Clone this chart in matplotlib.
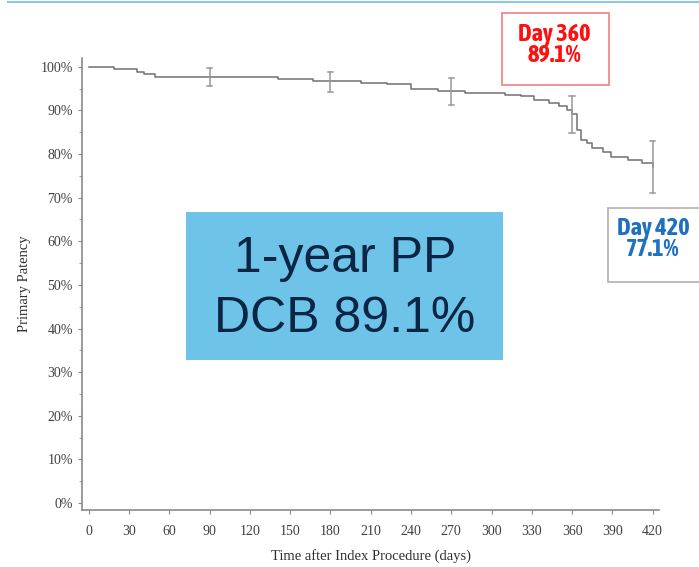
import matplotlib
matplotlib.use("Agg")
import matplotlib.pyplot as plt
from matplotlib.patches import Rectangle
from matplotlib.lines import Line2D
from matplotlib import font_manager

# Kaplan-Meier step curve (days, primary patency fraction)
days = [0, 19, 36, 41, 49, 141, 167, 203, 222, 240, 260, 280, 310, 322, 332, 343, 350,
        356, 360, 364, 367, 371, 375, 383, 389, 402, 412, 420]
patency = [1.000, 0.994, 0.988, 0.984, 0.977, 0.972, 0.967, 0.963, 0.960, 0.950, 0.944,
           0.940, 0.936, 0.932, 0.924, 0.918, 0.911, 0.901, 0.891, 0.856, 0.833, 0.826,
           0.814, 0.805, 0.794, 0.787, 0.780, 0.771]

# Confidence intervals at time points
ci_days = [90, 180, 270, 360, 420]
ci_lower = [0.956, 0.943, 0.913, 0.849, 0.711]
ci_upper = [0.998, 0.989, 0.975, 0.933, 0.830]

x_ticks = list(range(0, 421, 30))
y_ticks = [i / 10 for i in range(11)]
y_tick_labels = [f"{i * 10}%" for i in range(11)]

summary_text = "1-year PP\nDCB 89.1%"
day360_text = "Day 360\n89.1%"
day420_text = "Day 420\n77.1%"

# find a bold condensed sans font if available
cands = []
for f in font_manager.fontManager.ttflist:
    n = f.name.lower()
    if ("narrow" in n or "condensed" in n) and "mono" not in n and f.style == "normal":
        w = f.weight if isinstance(f.weight, int) else (700 if "bold" in str(f.weight) else 400)
        cands.append((abs(w - 700), f))
cands.sort(key=lambda t: t[0])
if cands:
    bf = cands[0][1]
    box_fp = font_manager.FontProperties(fname=bf.fname, size=17.5)
else:
    box_fp = font_manager.FontProperties(family="Liberation Sans", weight="bold", size=14)

fig = plt.figure(figsize=(6.99, 5.67), dpi=100)
ax = fig.add_axes([0.1173, 0.1005, 0.826, 0.7972])

ax.step(days, patency, where="post", color="#707070", lw=1.1)
for d, lo, hi in zip(ci_days, ci_lower, ci_upper):
    ax.plot([d, d], [lo, hi], color="#999999", lw=1.1)
    ax.plot([d - 2, d + 2], [lo, lo], color="#999999", lw=1.1)
    ax.plot([d - 2, d + 2], [hi, hi], color="#999999", lw=1.1)

ax.set_xlim(-5, 425)
ax.set_ylim(-0.016, 1.02)
ax.set_xticks(x_ticks)
ax.set_yticks(y_ticks)
ax.set_yticklabels(y_tick_labels)
ax.set_yticks([i / 20 for i in range(1, 21, 2)], minor=True)
for s in ["top", "right"]:
    ax.spines[s].set_visible(False)
for s in ["left", "bottom"]:
    ax.spines[s].set_color("#8a8a8a")
    ax.spines[s].set_linewidth(1.2)
serif = "Liberation Serif"
ax.tick_params(axis="both", which="major", length=3, color="#8a8a8a", labelsize=10,
               labelcolor="#404040")
ax.tick_params(axis="y", which="minor", length=2, color="#8a8a8a")
ax.tick_params(axis="x", pad=8)
for lab in ax.get_xticklabels() + ax.get_yticklabels():
    lab.set_fontfamily(serif)
ax.set_xlabel("Time after Index Procedure (days)", family=serif, fontsize=10.5,
              color="#303030", labelpad=8)
ax.set_ylabel("Primary Patency", family=serif, fontsize=10.5, color="#303030", labelpad=7)

# decorative top line
fig.add_artist(Line2D([8 / 699, 1], [1 - 2 / 567, 1 - 2 / 567], color="#8EC8DA", lw=1.5))

# summary box
fig.add_artist(Rectangle((186 / 699, 1 - 360 / 567), 317 / 699, 148 / 567,
                         facecolor="#6EC4E8", edgecolor="none"))
fig.text(345 / 699, 1 - 289 / 567, summary_text, ha="center", va="center",
         fontsize=36, color="#0B2545", family="Liberation Sans", linespacing=1.38)

# Day 360 box
fig.add_artist(Rectangle((502 / 699, 1 - 85 / 567), 107 / 699, 72 / 567,
                         facecolor="white", edgecolor="#F08080", lw=1.2))
fig.text(554 / 699, 1 - 45 / 567, day360_text, ha="center", va="center",
         color="#FF1010", linespacing=0.88, fontproperties=box_fp)

# Day 420 box
fig.add_artist(Rectangle((608 / 699, 1 - 282 / 567), 95 / 699, 74 / 567,
                         facecolor="white", edgecolor="#B0B0B0", lw=1.2))
fig.text(653 / 699, 1 - 239 / 567, day420_text, ha="center", va="center",
         color="#1F70C0", linespacing=0.88, fontproperties=box_fp)

fig.savefig("out.png", dpi=100)
